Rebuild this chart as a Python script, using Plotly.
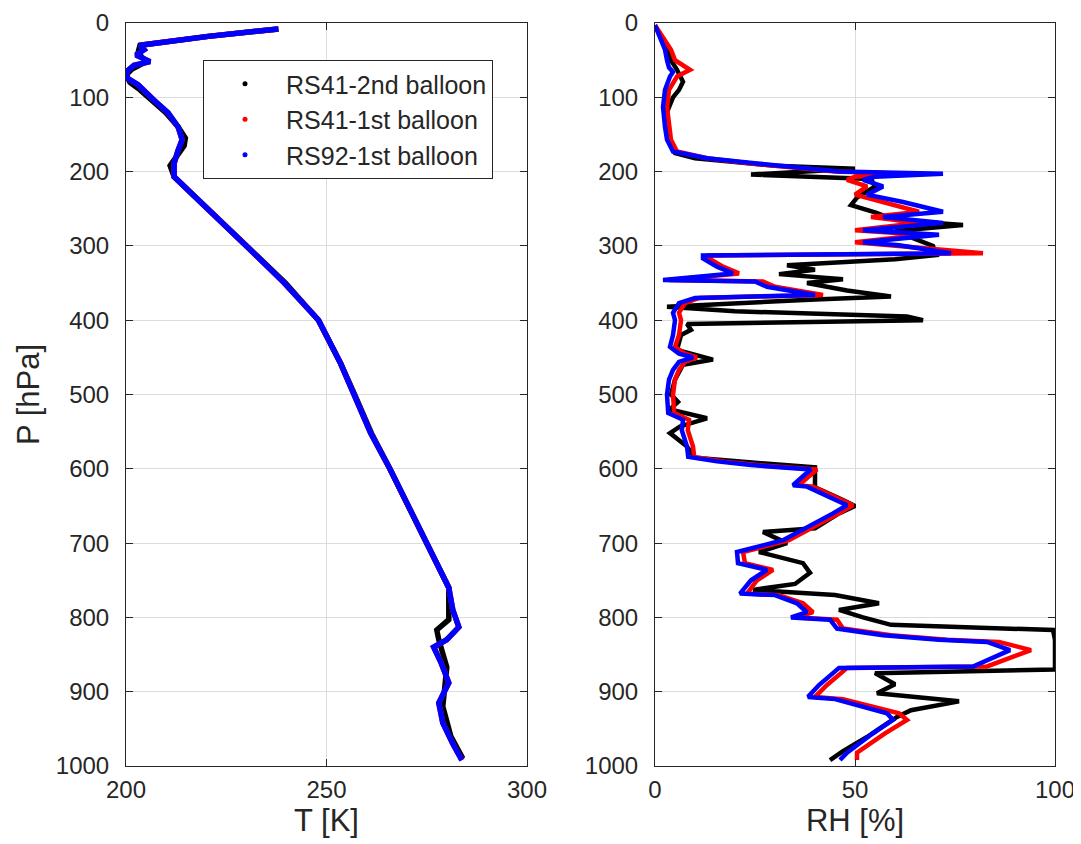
import plotly.graph_objects as go

# ---------------- Temperature profiles (P [hPa], T [K]) ----------------
p_t_rs41_2nd = [8, 18, 30, 40, 52, 62, 70, 80, 90, 104, 121, 140, 155, 165, 180, 192, 207, 250, 300, 350,
                400, 458, 500, 552, 600, 650, 700, 760, 790, 803, 817, 830, 867, 900, 920, 960, 990]
t_rs41_2nd = [238, 220.5, 203.5, 203, 205, 201.5, 200, 201, 203.5, 206.5, 210, 213, 214.8, 214.5, 212.5, 211, 212,
              220.5, 230, 239.8, 248, 253.5, 257, 261.2, 265.8, 270.5, 275, 280.5, 280.5, 280.5, 277.5, 278,
              280, 279.5, 279, 281, 284]

p_t_rs41_1st = [8, 18, 30, 36, 43, 52, 57, 66, 75, 83, 104, 121, 140, 157, 171, 189, 207, 250, 300, 350,
                400, 458, 500, 552, 600, 650, 700, 760, 790, 813, 830, 840, 860, 888, 915, 942, 970, 992]
t_rs41_1st = [238, 220.5, 203.5, 204.5, 202.5, 206, 202, 200, 200.5, 203, 207, 210.5, 213, 214, 213, 212, 212,
              220.5, 230, 239.5, 248, 253.5, 257, 261, 265.8, 270.5, 275, 280.5, 281.5, 283, 280, 276.8,
              278.5, 280.5, 278, 279, 281.5, 283.8]

p_t_rs92 = [8, 18, 30, 36, 43, 52, 57, 66, 75, 83, 104, 121, 140, 157, 171, 189, 207, 250, 300, 350,
            400, 458, 500, 552, 600, 650, 700, 760, 790, 813, 830, 840, 860, 888, 915, 942, 970, 992]
t_rs92 = [238, 220.5, 203.5, 204.5, 202.5, 206, 202, 200, 200.5, 203, 207, 210.5, 213, 214, 213, 212, 212,
          220.5, 230, 239.5, 248, 253.5, 257, 261, 265.8, 270.5, 275, 280.5, 281.5, 283, 280, 276.7,
          278.5, 280.5, 278, 279, 281.5, 283.75]

# ---------------- Relative humidity profiles (P [hPa], RH [%]) ----------------
p_rh_rs41_2nd = [3, 19, 36, 50, 63, 79, 90, 100, 120, 140, 160, 175, 182, 192, 196, 204, 210, 220, 235, 245,
                 255, 265, 272, 280, 290, 300, 308, 312, 318, 326, 332, 338, 345, 350, 360, 368, 372, 382,
                 388, 395, 400, 405, 413, 420, 440, 453, 460, 480, 500, 510, 520, 532, 543, 552, 570, 585,
                 592, 598, 610, 625, 642, 650, 660, 680, 685, 700, 712, 727, 740, 755, 763, 770, 781, 790,
                 800, 810, 817, 830, 850, 870, 875, 890, 902, 913, 925, 934, 950, 961, 980, 992]
rh_rs41_2nd = [0, 1.5, 3, 4, 5.5, 7, 6, 4.5, 3, 3, 3.5, 5, 10, 30, 50, 24, 54, 55, 50.5, 49,
               55, 60, 77, 60, 65, 69.5, 70, 71, 60, 33, 40, 31, 47, 38, 48, 59, 40, 3,
               20, 63, 67, 8, 9, 6.5, 5.5, 14.5, 7, 5, 4, 5.75, 3.75, 13, 6.25, 3.75, 8, 10,
               25, 40, 40, 40, 47, 50, 46, 40, 27, 33, 26, 37, 38.75, 35, 24.5, 45, 56, 46,
               52, 59, 99.5, 100, 100, 100, 55, 60, 55.5, 76, 64, 60.5, 56, 53, 47, 43.75]

p_rh_rs41_1st = [3, 19, 36, 50, 63, 72, 90, 113, 140, 157, 173, 182, 189, 196, 200, 203, 207, 211, 220, 231,
                 241, 254, 261, 269, 279, 285, 295, 299, 310, 313, 317, 328, 337, 346, 348, 355, 362, 366,
                 370, 377, 390, 400, 420, 436, 445, 450, 456, 467, 480, 500, 525, 534, 548, 570, 584, 590,
                 595, 599, 601, 610, 622, 624, 642, 649, 660, 678, 696, 703, 712, 727, 736, 750, 768, 770,
                 781, 793, 800, 803, 815, 824, 830, 833, 844, 866, 868, 875, 891, 907, 910, 929, 938, 956,
                 982, 992]
rh_rs41_1st = [0, 2, 4, 5, 8.75, 5.5, 3.5, 3, 3.5, 4, 5.5, 13, 24, 36, 45, 62, 50, 48, 53, 50,
               57, 66, 54, 66, 50, 67, 50, 58, 82, 13, 13.5, 17, 21, 3.5, 27, 30, 38, 42,
               11, 7.5, 6, 6.5, 6, 5, 7.5, 10.5, 7.5, 6, 5, 4.5, 4.8, 8.5, 8.2, 9.5, 9.8, 17,
               25.5, 35.5, 40.5, 38.5, 36, 39.5, 47, 49.5, 46, 39.5, 33.5, 28.5, 22, 22.5, 29.5, 25.5, 23, 31,
               37, 39.5, 35.5, 45.5, 47, 59, 73, 86, 94, 83, 48, 46.5, 43, 40, 47, 61, 63, 57.5,
               50.5, 50.5]

p_rh_rs92 = [3, 19, 36, 50, 60, 66, 72, 90, 113, 140, 157, 173, 182, 189, 196, 200, 203, 207, 211, 220,
             231, 241, 254, 261, 269, 279, 285, 295, 299, 310, 313, 317, 328, 337, 346, 348, 355, 362,
             366, 370, 377, 390, 400, 420, 436, 445, 450, 456, 467, 480, 500, 525, 534, 548, 570, 584,
             590, 595, 599, 601, 610, 622, 624, 642, 649, 660, 678, 696, 703, 712, 727, 736, 750, 768,
             770, 781, 793, 800, 803, 815, 824, 830, 833, 844, 866, 868, 875, 891, 907, 910, 929, 938,
             956, 982, 992]
rh_rs92 = [0, 1.25, 2.5, 3, 3.5, 4.5, 3.75, 2.5, 2, 2.5, 3, 4.5, 13, 25.5, 38, 46, 72, 55, 52, 57,
           53, 62, 72, 57, 72, 52, 71, 52, 61, 74, 12, 12, 15.5, 19.5, 2, 25, 28, 36,
           40, 10, 6, 4.5, 5, 4.5, 3.75, 6, 9.5, 6, 4.5, 3.5, 3, 3.3, 7, 6.7, 8, 8.3,
           15.5, 24, 34, 39, 37, 34.5, 38, 45.5, 48, 44.5, 38, 32, 27, 20.5, 20.75, 28, 24, 21.25,
           30, 35.5, 38, 34, 43.75, 45.5, 57, 71, 83, 88.75, 79.5, 46, 44.5, 41, 38.25, 45, 58, 59.5,
           54.5, 48, 46.25]

series_names = ["RS41-2nd balloon", "RS41-1st balloon", "RS92-1st balloon"]
series_colors = ["#000000", "#ff0000", "#0000ff"]

p_ticks = [0, 100, 200, 300, 400, 500, 600, 700, 800, 900, 1000]
t_ticks = [200, 250, 300]
rh_ticks = [0, 50, 100]

FONT = "Liberation Sans, Arial, Helvetica, sans-serif"
TXT = "#262626"
GRID = "#dcdcdc"

fig = go.Figure()

t_data = [(t_rs41_2nd, p_t_rs41_2nd), (t_rs41_1st, p_t_rs41_1st), (t_rs92, p_t_rs92)]
rh_data = [(rh_rs41_2nd, p_rh_rs41_2nd), (rh_rs41_1st, p_rh_rs41_1st), (rh_rs92, p_rh_rs92)]

for (x, y), c in zip(t_data, series_colors):
    fig.add_trace(go.Scatter(x=x, y=y, mode="lines", line=dict(color=c, width=5.5),
                             xaxis="x", yaxis="y", showlegend=False, hoverinfo="skip"))
for (x, y), c in zip(rh_data, series_colors):
    fig.add_trace(go.Scatter(x=x, y=y, mode="lines", line=dict(color=c, width=4.5),
                             xaxis="x2", yaxis="y2", showlegend=False, hoverinfo="skip"))
for n, c in zip(series_names, series_colors):
    fig.add_trace(go.Scatter(x=[None], y=[None], mode="markers", name=n,
                             marker=dict(color=c, size=5), xaxis="x", yaxis="y"))

W, H = 1081, 844
OFF = 8  # page body margin offset
ydom = [1 - (766 - OFF) / H, 1 - (23 - OFF) / H]

axis_common = dict(
    showline=True, linecolor=TXT, linewidth=1, mirror="ticks",
    ticks="inside", ticklen=7, tickcolor=TXT, tickwidth=1,
    showgrid=True, gridcolor=GRID, gridwidth=1, zeroline=False,
    automargin=False,
    tickfont=dict(family=FONT, size=24, color=TXT),
    title_font=dict(family=FONT, size=31, color=TXT),
)

fig.update_layout(
    width=W, height=H,
    paper_bgcolor="white", plot_bgcolor="white",
    margin=dict(l=0, r=0, t=0, b=0),
    font=dict(family=FONT, color=TXT),
    xaxis=dict(domain=[(126 - OFF) / W, (527 - OFF) / W], range=[200, 300], tickvals=t_ticks,
               ticklabelstandoff=2, title=dict(text="T [K]", standoff=6), anchor="y", **axis_common),
    yaxis=dict(domain=ydom, range=[1000, 0], tickvals=p_ticks, ticklabelstandoff=11,
               title=dict(text="P [hPa]", standoff=6), anchor="x", **axis_common),
    xaxis2=dict(domain=[(655 - OFF) / W, (1055 - OFF) / W], range=[0, 100], tickvals=rh_ticks,
                ticklabelstandoff=2, title=dict(text="RH [%]", standoff=6), anchor="y2", **axis_common),
    yaxis2=dict(domain=ydom, range=[1000, 0], tickvals=p_ticks, ticklabelstandoff=11,
                anchor="x2", **axis_common),
    legend=dict(x=(203 - OFF) / W, y=1 - (60 - OFF) / H, xanchor="left", yanchor="top",
                bgcolor="white", bordercolor=TXT, borderwidth=1,
                font=dict(family=FONT, size=25, color=TXT), itemwidth=72),
)

fig.write_html("out.html")
